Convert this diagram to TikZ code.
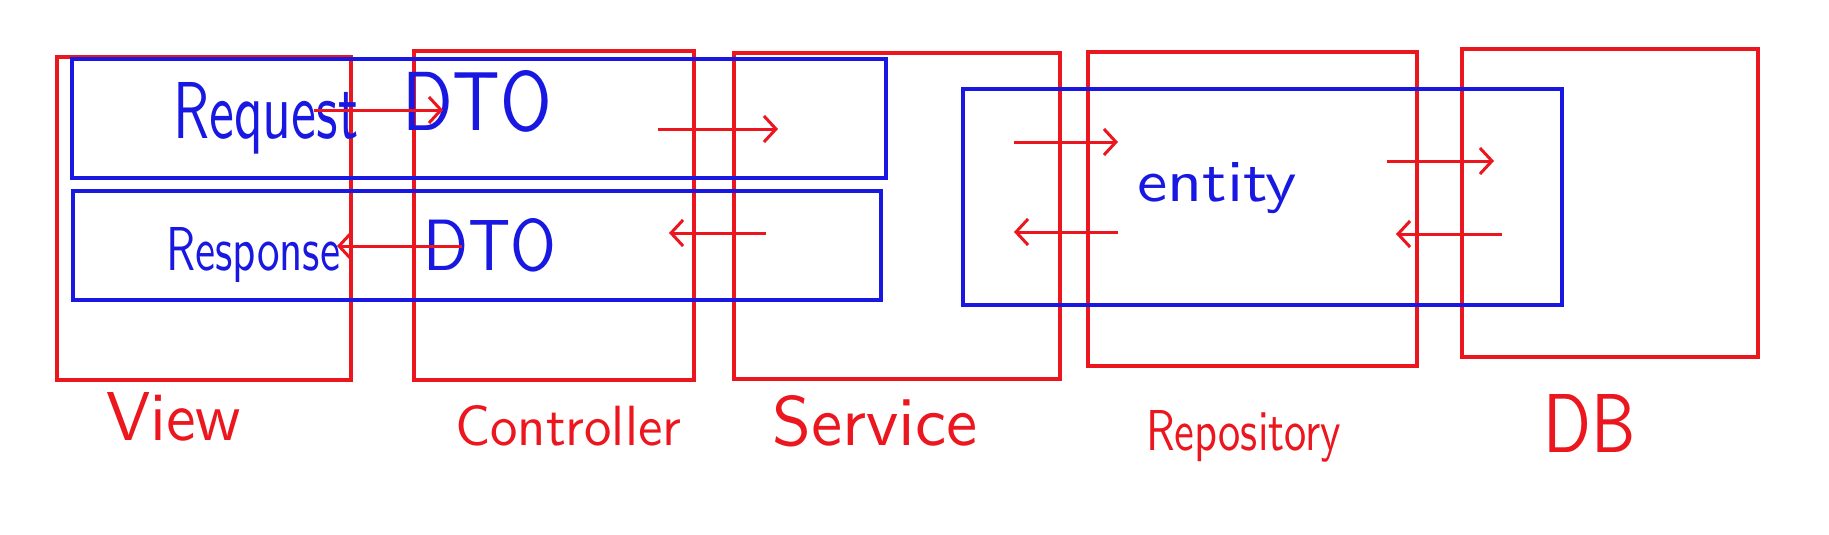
\documentclass[tikz,border=0pt]{standalone}
\usetikzlibrary{arrows.meta,fit}
\definecolor{hred}{RGB}{236,22,30}
\definecolor{hblue}{RGB}{24,24,226}
\newcommand\fitlabel[3]{\resizebox{#1pt}{#2pt}{\sffamily #3}}
\tikzset{
  redbox/.style={draw=hred, line width=3.5pt, inner sep=0pt},
  bluebox/.style={draw=hblue, line width=3.5pt, inner sep=0pt},
  flow/.style={draw=hred, line width=3pt, -{Straight Barb[length=12pt,width=26pt,line width=3pt]}},
  bluelabel/.style={text=hblue, inner sep=0pt, anchor=base west},
  redlabel/.style={text=hred, inner sep=0pt, anchor=base west},
}
\begin{document}
\begin{tikzpicture}[x=1pt,y=-1pt]
\useasboundingbox[fill=white] (0,0) rectangle (1829,535);
% red layer boxes
\node[redbox, fit={(57,57) (351,380)}] (view) {};
\node[redbox, fit={(414,51) (694,380)}] (ctrl) {};
\node[redbox, fit={(734,53) (1060,379)}] (svc) {};
\node[redbox, fit={(1088,52) (1417,366)}] (repo) {};
\node[redbox, fit={(1462,49) (1758,357)}] (db) {};
% blue data boxes
\node[bluebox, fit={(72,59) (886,178)}] (reqdto) {};
\node[bluebox, fit={(73,191) (881,300)}] (resdto) {};
\node[bluebox, fit={(963,89) (1562,305)}] (entity) {};
% blue labels
\node[bluelabel] (reqt) at (173,138) {\fitlabel{185}{56}{Request}};
\node[bluelabel] (reqd) at (402,130) {\fitlabel{150}{60}{DTO}};
\node[bluelabel] (rest) at (166,270) {\fitlabel{174}{43}{Response}};
\node[bluelabel] (resd) at (423,270) {\fitlabel{133}{52}{DTO}};
\node[bluelabel] (entt) at (1137,201) {\fitlabel{160}{39}{entity}};
% red labels
\node[redlabel] (lview) at (106,440) {\fitlabel{135}{48}{View}};
\node[redlabel] (lctrl) at (455,445) {\fitlabel{226}{40}{Controller}};
\node[redlabel] (lsvc) at (772,445) {\fitlabel{205}{50}{Service}};
\node[redlabel] (lrepo) at (1146,450) {\fitlabel{195}{40}{Repository}};
\node[redlabel] (ldb) at (1543,452) {\fitlabel{92}{58}{DB}};
% arrow end points
\coordinate (a1s) at (314,110); \coordinate (a1e) at (443,110);
\coordinate (a2s) at (658,129); \coordinate (a2e) at (778,129);
\coordinate (a3s) at (1014,142); \coordinate (a3e) at (1118,142);
\coordinate (a4s) at (1387,161); \coordinate (a4e) at (1494,161);
\coordinate (a5s) at (1502,234); \coordinate (a5e) at (1396,234);
\coordinate (a6s) at (1118,232); \coordinate (a6e) at (1014,232);
\coordinate (a7s) at (766,233); \coordinate (a7e) at (669,233);
\coordinate (a8s) at (462,246); \coordinate (a8e) at (337,246);
\draw[flow] (a1s) -- (a1e);
\draw[flow] (a2s) -- (a2e);
\draw[flow] (a3s) -- (a3e);
\draw[flow] (a4s) -- (a4e);
\draw[flow] (a5s) -- (a5e);
\draw[flow] (a6s) -- (a6e);
\draw[flow] (a7s) -- (a7e);
\draw[flow] (a8s) -- (a8e);
\end{tikzpicture}
\end{document}
